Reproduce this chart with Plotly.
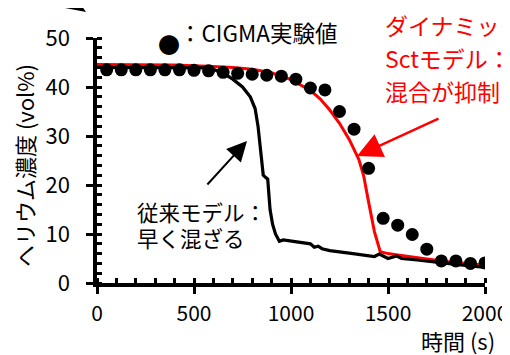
import plotly.graph_objects as go

# CIGMA experiment (dots)
exp_t = [50, 125, 200, 275, 350, 425, 500, 575, 650, 725, 800, 875, 950, 1025, 1100,
         1175, 1250, 1325, 1400, 1475, 1550, 1625, 1700, 1775, 1850, 1925, 2000]
exp_c = [43.5, 43.5, 43.5, 43.5, 43.5, 43.5, 43.4, 43.3, 43.0, 42.8, 42.6, 42.4, 42.2, 41.6, 39.8,
         39.4, 35.0, 31.4, 23.4, 13.2, 11.8, 9.9, 6.9, 4.5, 4.5, 4.0, 4.1]

# Dynamic Sct model (red)
dyn_t = [0, 200, 400, 600, 700, 800, 900, 1000, 1100, 1150, 1200, 1250, 1300, 1350, 1375,
         1400, 1430, 1460, 1500, 1550, 1600, 1700, 1800, 1900, 2000]
dyn_c = [44.6, 44.6, 44.5, 44.2, 44.0, 43.6, 42.9, 41.5, 39.3, 37.6, 35.3, 32.6, 29.3, 25.2, 21.8,
         16.5, 10.5, 6.4, 6.0, 5.7, 5.4, 4.9, 4.4, 4.0, 3.6]

# Conventional model (black)
conv_t = [0, 300, 550, 600, 650, 700, 750, 790, 815, 830, 845, 857, 870, 880, 892, 905, 920,
          940, 960, 1000, 1050, 1100, 1120, 1140, 1160, 1200, 1300, 1400, 1430, 1455, 1480,
          1500, 1545, 1570, 1650, 1750, 1850, 1950, 2000]
conv_c = [44.0, 44.0, 43.9, 43.6, 42.8, 41.6, 40.0, 38.0, 35.6, 32.0, 27.0, 22.0, 21.5, 21.2,
          15.0, 12.0, 10.0, 8.5, 8.8, 8.6, 8.3, 8.0, 7.3, 7.5, 7.0, 6.6, 6.1, 5.5, 5.4, 5.9,
          5.3, 5.0, 5.5, 5.0, 4.7, 4.2, 3.8, 3.4, 3.2]

x_ticks = [0, 500, 1000, 1500, 2000]
y_ticks = [0, 10, 20, 30, 40, 50]

FONT = "Noto Sans CJK JP"

fig = go.Figure()
fig.add_trace(go.Scatter(x=dyn_t, y=dyn_c, mode="lines",
                         line=dict(color="#ff0000", width=3), showlegend=False))
fig.add_trace(go.Scatter(x=conv_t, y=conv_c, mode="lines",
                         line=dict(color="black", width=3.2), showlegend=False))
fig.add_trace(go.Scatter(x=exp_t, y=exp_c, mode="markers",
                         marker=dict(color="black", size=13), showlegend=False))

# page has an 8px body margin; work in page pixels
OFF = 8
W, H = 510, 355
PL, PR, PT, PB = 97, 485, 38, 283          # plot area in page pixels
L = PL - OFF
T = PT - OFF
R = W - (PR - OFF)
B = H - (PB - OFF)
pw, ph = PR - PL, PB - PT

def px(x):
    return (x - PL) / pw

def py(y):
    return (PB - y) / ph

annotations = [
    # legend
    dict(x=px(169), y=py(43), xref="paper", yref="paper", text="●", showarrow=False,
         xanchor="center", yanchor="middle",
         font=dict(family=FONT, size=22, color="black")),
    dict(x=px(177), y=py(32), xref="paper", yref="paper", text="：CIGMA実験値",
         xanchor="left", yanchor="middle", showarrow=False,
         font=dict(family=FONT, size=22.5, color="black")),
    # conventional text
    dict(x=px(135), y=py(211), xref="paper", yref="paper", text="従来モデル：",
         xanchor="left", yanchor="middle", showarrow=False,
         font=dict(family=FONT, size=21.5, color="black")),
    dict(x=px(135), y=py(237), xref="paper", yref="paper", text="早く混ざる",
         xanchor="left", yanchor="middle", showarrow=False,
         font=dict(family=FONT, size=21.5, color="black")),
    # red text
    dict(x=px(383), y=py(25), xref="paper", yref="paper", text="ダイナミックSGS",
         xanchor="left", yanchor="middle", showarrow=False,
         font=dict(family=FONT, size=23, color="#ff0000")),
    dict(x=px(383), y=py(58), xref="paper", yref="paper", text="Sctモデル：",
         xanchor="left", yanchor="middle", showarrow=False,
         font=dict(family=FONT, size=23, color="#ff0000")),
    dict(x=px(383), y=py(91), xref="paper", yref="paper", text="混合が抑制される",
         xanchor="left", yanchor="middle", showarrow=False,
         font=dict(family=FONT, size=23, color="#ff0000")),
    # arrows
    dict(x=px(247), y=py(141), xref="paper", yref="paper", ax=-41, ay=45, text="",
         showarrow=True, arrowhead=2, arrowsize=2, arrowwidth=2, arrowcolor="black"),
    dict(x=px(357), y=py(156), xref="paper", yref="paper", ax=83, ay=-38, text="",
         showarrow=True, arrowhead=2, arrowsize=2, arrowwidth=2.5, arrowcolor="#ff0000"),
    # axis titles
    dict(x=px(24), y=py(166), xref="paper", yref="paper", text="ヘリウム濃度 (vol%)",
         textangle=-90, showarrow=False, xanchor="center", yanchor="middle",
         font=dict(family=FONT, size=22, color="black")),
    dict(x=px(497), y=py(340), xref="paper", yref="paper", text="時間 (s)",
         xanchor="right", yanchor="middle", showarrow=False,
         font=dict(family=FONT, size=22, color="black")),
]

shapes = [
    dict(type="path", xref="paper", yref="paper", fillcolor="black", line=dict(width=0),
         path=(f"M {px(66)},{py(-1)} L {px(77)},{py(-1)} L {px(86)},{py(12)} "
               f"L {px(65)},{py(8)} Z")),
]

fig.update_layout(
    width=W, height=H,
    margin=dict(l=L, r=R, t=T, b=B, pad=0, autoexpand=False),
    plot_bgcolor="white", paper_bgcolor="white",
    font=dict(family=FONT, size=21, color="black"),
    annotations=annotations,
    shapes=shapes,
    xaxis=dict(range=[0, 2000], tickvals=x_ticks, ticktext=[str(v) for v in x_ticks],
               automargin=False,
               showgrid=False, zeroline=False, showline=True, linecolor="black", linewidth=3.5,
               ticks="outside", ticklen=7, tickwidth=3, tickcolor="black",
               ticklabelstandoff=2,
               minor=dict(dtick=100, ticks="inside", ticklen=5, tickwidth=2.5, tickcolor="black"),
               tickfont=dict(family=FONT, size=21, color="black")),
    yaxis=dict(range=[0, 50], tickvals=y_ticks, ticktext=[str(v) for v in y_ticks],
               automargin=False,
               showgrid=False, zeroline=False, showline=True, linecolor="black", linewidth=3.5,
               ticks="outside", ticklen=7, tickwidth=3, tickcolor="black",
               ticklabelstandoff=12,
               minor=dict(dtick=2, ticks="inside", ticklen=5, tickwidth=2.5, tickcolor="black"),
               tickfont=dict(family=FONT, size=22, color="black")),
)

fig.write_html("out.html")
